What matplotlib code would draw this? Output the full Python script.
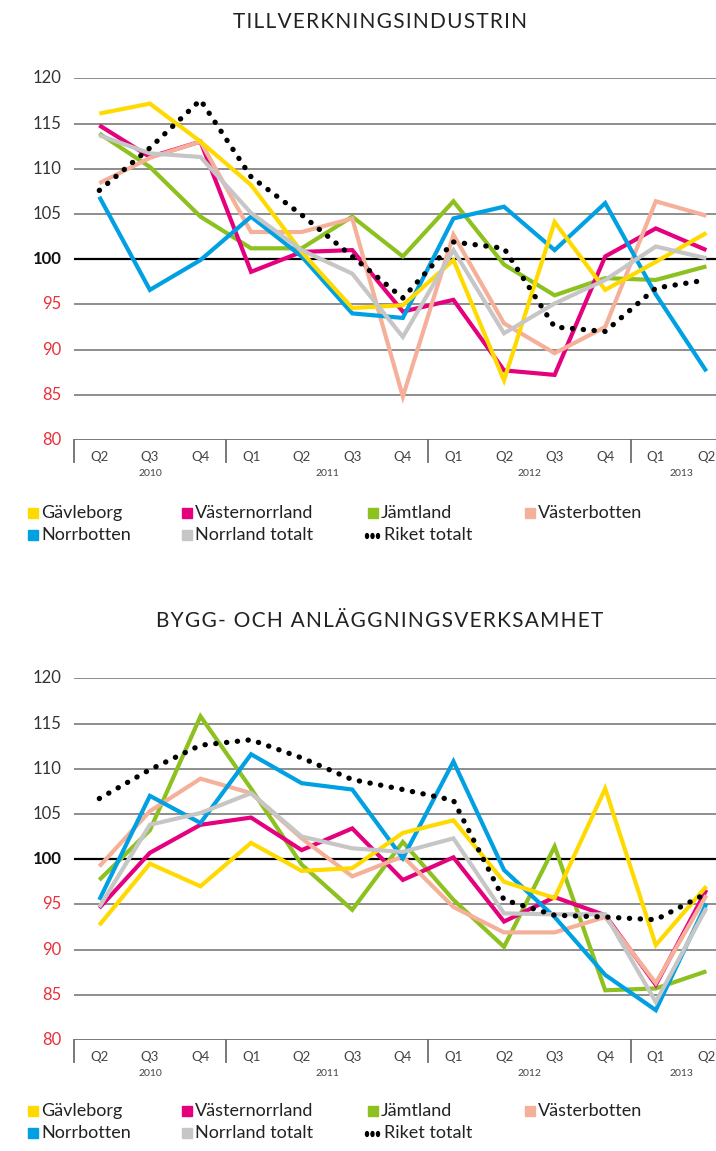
import matplotlib
matplotlib.use("Agg")
import matplotlib.pyplot as plt
from matplotlib.patches import Rectangle
from matplotlib.transforms import blended_transform_factory

plt.rcParams['font.family'] = ['Lato', 'DejaVu Sans']

quarters = ["Q2", "Q3", "Q4", "Q1", "Q2", "Q3", "Q4", "Q1", "Q2", "Q3", "Q4", "Q1", "Q2"]
years = ["2010", "2011", "2012", "2013"]
year_centers = [1, 4.5, 8.5, 11.5]
year_breaks = [2.5, 6.5, 10.5]

series_names = ["Gävleborg", "Västernorrland", "Jämtland", "Västerbotten",
                "Norrbotten", "Norrland totalt", "Riket totalt"]
colors = ["#FFDA00", "#E5007D", "#8CC11F", "#F5B09A", "#00A0E2", "#C6C6C6", "#000000"]

# TILLVERKNINGSINDUSTRIN
ind_gavleborg = [116.1, 117.2, 113.0, 108.2, 100.8, 94.6, 94.9, 99.9, 86.6, 104.1, 96.6, 99.7, 102.9]
ind_vasternorrland = [114.8, 111.3, 113.0, 98.6, 100.8, 101.0, 94.2, 95.5, 87.7, 87.2, 100.3, 103.4, 101.0]
ind_jamtland = [113.9, 110.2, 104.7, 101.2, 101.2, 104.7, 100.3, 106.4, 99.4, 96.0, 97.9, 97.7, 99.2]
ind_vasterbotten = [108.4, 111.2, 113.0, 103.0, 103.0, 104.5, 84.8, 102.7, 92.9, 89.6, 92.5, 106.4, 104.8]
ind_norrbotten = [106.9, 96.6, 99.9, 104.7, 100.3, 94.0, 93.5, 104.5, 105.8, 101.0, 106.2, 96.1, 87.6]
ind_norrland = [113.7, 111.7, 111.3, 105.1, 101.0, 98.4, 91.4, 101.0, 91.8, 95.1, 97.7, 101.4, 100.1]
ind_riket = [107.6, 112.3, 117.6, 109.1, 104.9, 100.3, 95.7, 101.9, 101.2, 92.5, 92.0, 96.8, 97.7]

# BYGG- OCH ANLÄGGNINGSVERKSAMHET
bygg_gavleborg = [92.7, 99.5, 97.0, 101.8, 98.7, 99.0, 102.9, 104.3, 97.5, 95.7, 107.8, 90.5, 97.0]
bygg_vasternorrland = [94.6, 100.7, 103.8, 104.6, 101.0, 103.4, 97.7, 100.2, 93.1, 95.8, 93.8, 86.1, 96.6]
bygg_jamtland = [97.7, 103.2, 115.8, 107.8, 99.4, 94.4, 101.9, 95.5, 90.3, 101.4, 85.5, 85.7, 87.6]
bygg_vasterbotten = [99.2, 105.3, 108.9, 107.3, 102.3, 98.1, 100.3, 94.7, 91.9, 91.9, 93.6, 86.3, 96.0]
bygg_norrbotten = [95.5, 107.0, 104.0, 111.6, 108.4, 107.7, 100.1, 110.8, 98.8, 93.6, 87.2, 83.3, 95.1]
bygg_norrland = [94.7, 103.8, 105.1, 107.3, 102.5, 101.2, 100.8, 102.3, 94.0, 93.9, 93.9, 84.2, 94.6]
bygg_riket = [106.7, 109.9, 112.6, 113.2, 111.2, 108.8, 107.7, 106.5, 95.5, 93.8, 93.6, 93.3, 96.2]

yticks = [80, 85, 90, 95, 100, 105, 110, 115, 120]

W, H = 716, 1151
fig = plt.figure(figsize=(W / 100, H / 100), dpi=100)


def fx(px):
    return px / W


def fy(py):
    return 1 - py / H


draw_order = [2, 1, 3, 4, 0, 5, 6]


def make_chart(top_px, title, title_y, data, legend_y):
    bottom_px = top_px + 361.7
    ax = fig.add_axes([fx(74), fy(bottom_px), fx(716 - 74), (bottom_px - top_px) / H])
    ax.set_xlim(-0.5, 12.19)
    ax.set_ylim(80, 120)
    for s in ax.spines.values():
        s.set_visible(False)
    ax.set_xticks([])
    ax.set_yticks([])
    for v in yticks:
        if v == 100:
            ax.axhline(v, color="#000000", lw=1.6, zorder=1)
        elif v == 80:
            ax.axhline(v, color="#6e6e6e", lw=1.3, zorder=1)
        else:
            ax.axhline(v, color="#7a7a7a", lw=1.2, zorder=1)
        if v == 100:
            col, wt = "#111111", "bold"
        elif v < 100:
            col, wt = "#E8323C", "normal"
        else:
            col, wt = "#333333", "normal"
        ax.text(-0.74, v, str(v), ha="right", va="center", fontsize=12,
                color=col, fontweight=wt)
    for i in draw_order:
        vals = data[i]
        xs = list(range(len(vals)))
        if i == 6:
            ax.plot(xs, vals, color=colors[i], lw=3.8, linestyle=(0, (0.05, 2.0)),
                    dash_capstyle="round", zorder=5, clip_on=False)
        else:
            ax.plot(xs, vals, color=colors[i], lw=3.0, zorder=3,
                    solid_joinstyle="miter", solid_capstyle="butt")
    tr = blended_transform_factory(ax.transData, ax.transAxes)
    for xb in [-0.5] + year_breaks:
        ax.plot([xb, xb], [0, -0.062], color="#6e6e6e", lw=1.3, transform=tr,
                clip_on=False)
    for k, q in enumerate(quarters):
        ax.text(k, -0.048, q, ha="center", va="center", fontsize=9.5,
                color="#444444", transform=tr)
    for yc, yl in zip(year_centers, years):
        ax.text(yc, -0.092, yl, ha="center", va="center", fontsize=7.5,
                color="#444444", transform=tr)
    fig.text(fx(380), fy(title_y), title, ha="center", va="center",
             fontsize=15, color="#222222")
    # legend
    cols = [28, 182, 368, 525]
    rows = [legend_y, legend_y + 22]
    for i, name in enumerate(series_names):
        r, c = divmod(i, 4)
        x0 = cols[c]
        y0 = rows[r]
        if i == 6:
            for dxp in [367, 372.5, 378]:
                fig.patches.append(plt.Circle((fx(dxp), fy(y0 + 1)), 1.5 / W,
                                              transform=fig.transFigure,
                                              color="#000000"))
            fig.text(fx(384), fy(y0), name, ha="left", va="center",
                     fontsize=13, color="#222222")
        else:
            fig.patches.append(Rectangle((fx(x0), fy(y0 + 5)), 10 / W, 10 / H,
                                         transform=fig.transFigure,
                                         color=colors[i]))
            fig.text(fx(x0 + 13), fy(y0), name, ha="left", va="center",
                     fontsize=13, color="#222222")


def spaced(s):
    return "\u200a".join(s)


ind_data = [ind_gavleborg, ind_vasternorrland, ind_jamtland, ind_vasterbotten,
            ind_norrbotten, ind_norrland, ind_riket]
bygg_data = [bygg_gavleborg, bygg_vasternorrland, bygg_jamtland, bygg_vasterbotten,
             bygg_norrbotten, bygg_norrland, bygg_riket]

make_chart(78.3, spaced("TILLVERKNINGSINDUSTRIN"), 22, ind_data, 513)
make_chart(678.3, spaced("BYGG- OCH ANLÄGGNINGSVERKSAMHET"), 621, bygg_data, 1111)

fig.savefig("out.png", dpi=100, facecolor="white")
